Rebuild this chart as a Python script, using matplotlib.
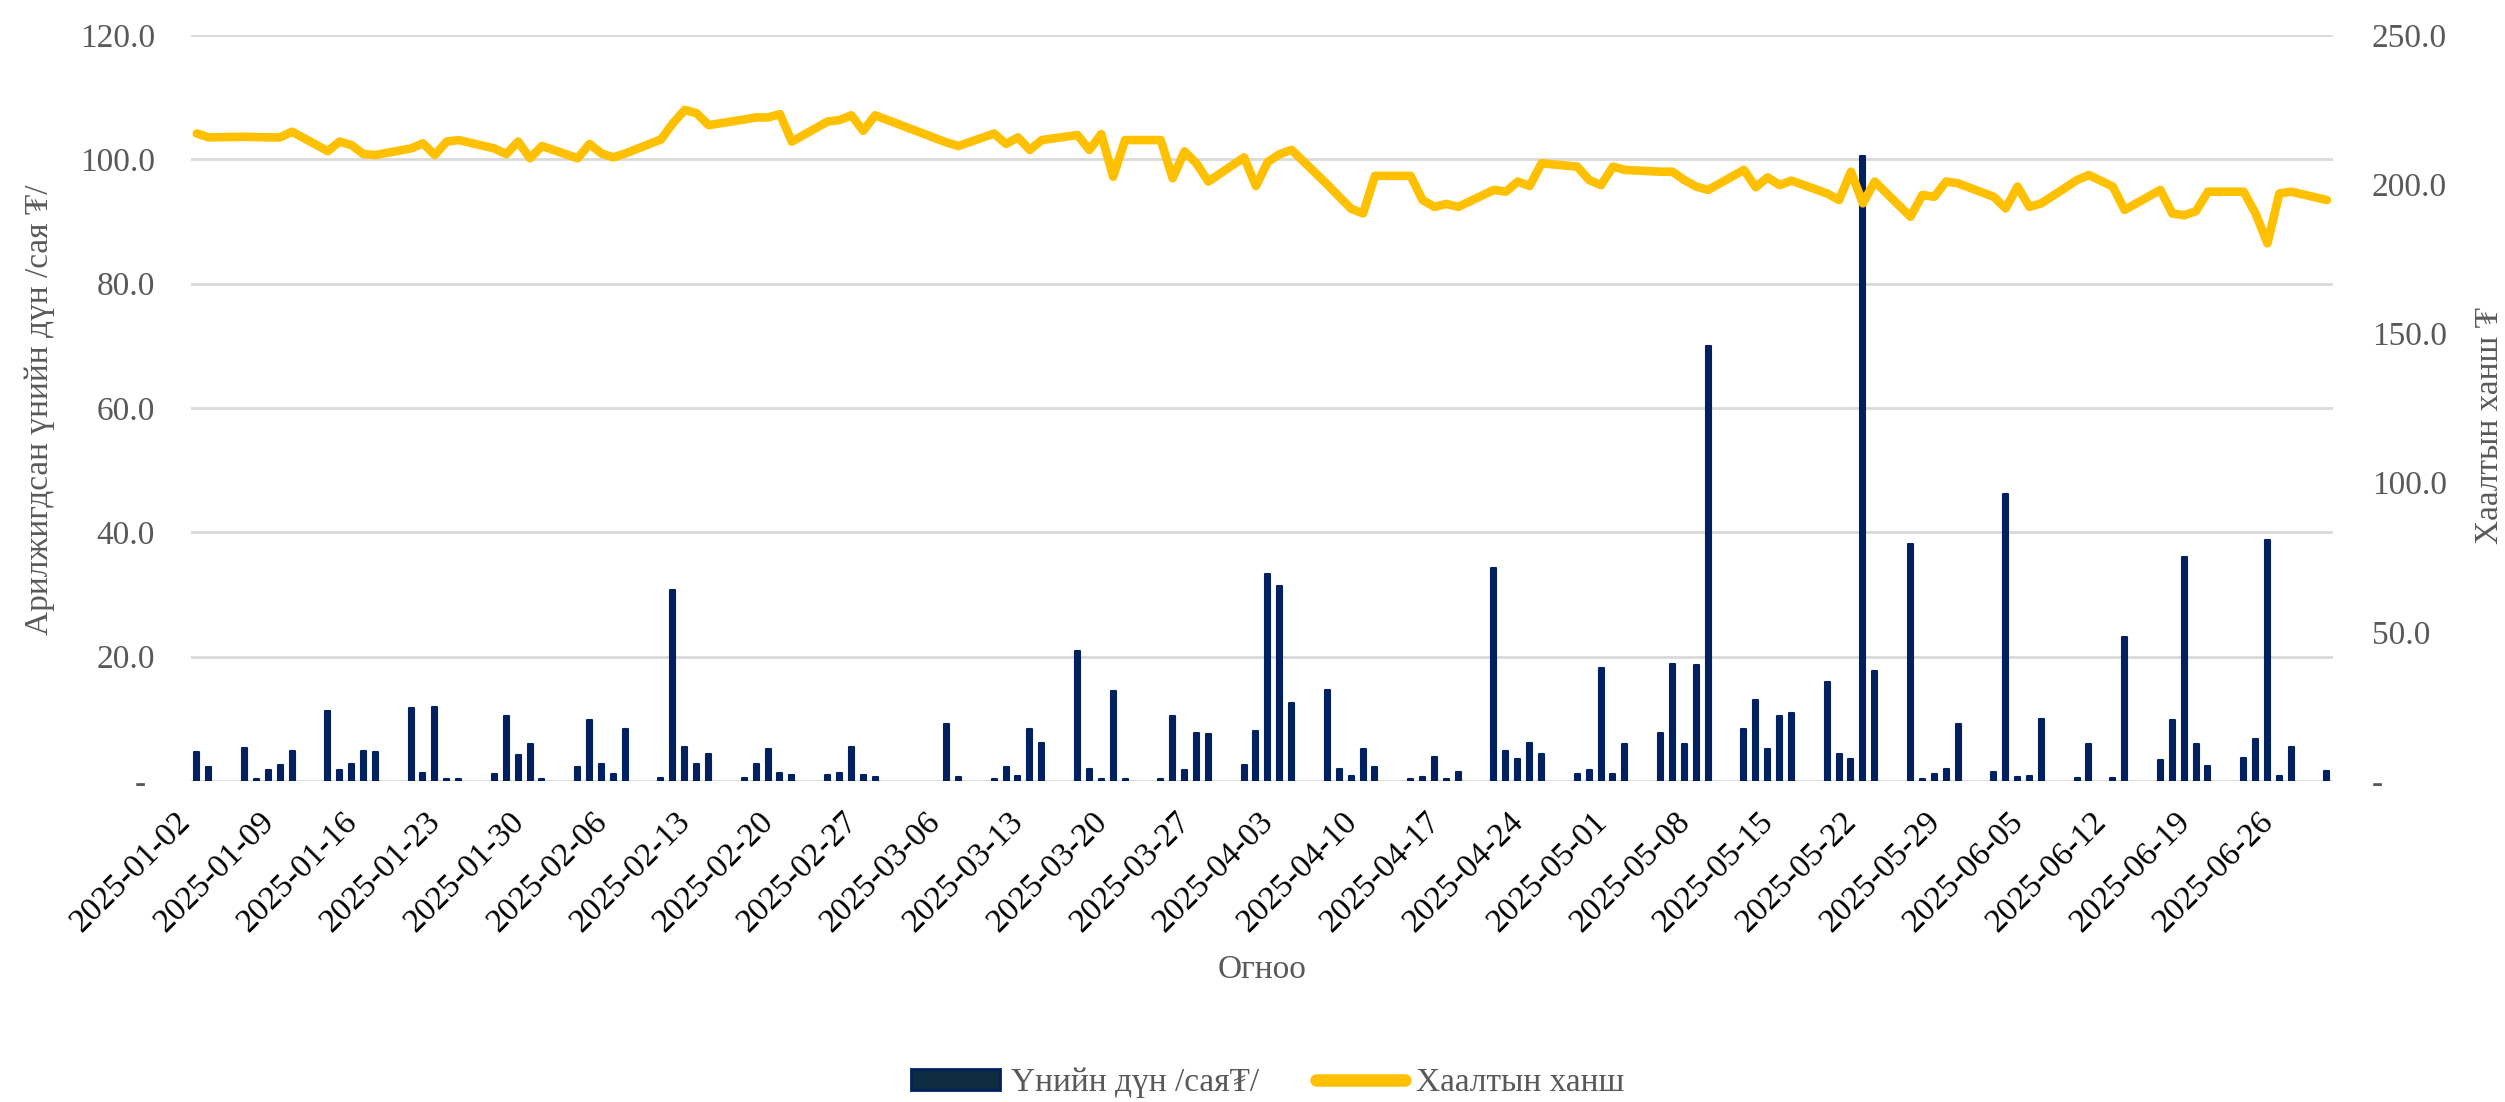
import numpy as np
import matplotlib
matplotlib.use("Agg")
import matplotlib.pyplot as plt
import matplotlib.dates as mdates
from matplotlib.patches import Patch
from matplotlib.lines import Line2D

# ---------------- data ----------------
dates = [
    "2025-01-02", "2025-01-03", "2025-01-06", "2025-01-07", "2025-01-08", "2025-01-09", "2025-01-10",
    "2025-01-13", "2025-01-14", "2025-01-15", "2025-01-16", "2025-01-17",
    "2025-01-20", "2025-01-21", "2025-01-22", "2025-01-23", "2025-01-24",
    "2025-01-27", "2025-01-28", "2025-01-29", "2025-01-30", "2025-01-31",
    "2025-02-03", "2025-02-04", "2025-02-05", "2025-02-06", "2025-02-07",
    "2025-02-10", "2025-02-11", "2025-02-12", "2025-02-13", "2025-02-14",
    "2025-02-17", "2025-02-18", "2025-02-19", "2025-02-20", "2025-02-21",
    "2025-02-24", "2025-02-25", "2025-02-26", "2025-02-27", "2025-02-28",
    "2025-03-06", "2025-03-07",
    "2025-03-10", "2025-03-11", "2025-03-12", "2025-03-13", "2025-03-14",
    "2025-03-17", "2025-03-18", "2025-03-19", "2025-03-20", "2025-03-21",
    "2025-03-24", "2025-03-25", "2025-03-26", "2025-03-27", "2025-03-28",
    "2025-03-31", "2025-04-01", "2025-04-02", "2025-04-03", "2025-04-04",
    "2025-04-07", "2025-04-08", "2025-04-09", "2025-04-10", "2025-04-11",
    "2025-04-14", "2025-04-15", "2025-04-16", "2025-04-17", "2025-04-18",
    "2025-04-21", "2025-04-22", "2025-04-23", "2025-04-24", "2025-04-25",
    "2025-04-28", "2025-04-29", "2025-04-30", "2025-05-01", "2025-05-02",
    "2025-05-05", "2025-05-06", "2025-05-07", "2025-05-08", "2025-05-09",
    "2025-05-12", "2025-05-13", "2025-05-14", "2025-05-15", "2025-05-16",
    "2025-05-19", "2025-05-20", "2025-05-21", "2025-05-22", "2025-05-23",
    "2025-05-26", "2025-05-27", "2025-05-28", "2025-05-29", "2025-05-30",
    "2025-06-02", "2025-06-03", "2025-06-04", "2025-06-05", "2025-06-06",
    "2025-06-09", "2025-06-10", "2025-06-12", "2025-06-13",
    "2025-06-16", "2025-06-17", "2025-06-18", "2025-06-19", "2025-06-20",
    "2025-06-23", "2025-06-24", "2025-06-25", "2025-06-26", "2025-06-27",
    "2025-06-30",
]

turnover = [  # Үнийн дүн /сая ₮/
    4.6, 2.2, 5.3, 0.3, 1.8, 2.5, 4.9,
    11.3, 1.8, 2.8, 4.9, 4.6,
    11.7, 1.3, 11.9, 0.3, 0.3,
    1.1, 10.4, 4.2, 6.0, 0.3,
    2.2, 9.8, 2.7, 1.2, 8.4,
    0.5, 30.8, 5.5, 2.7, 4.4,
    0.5, 2.7, 5.1, 1.3, 0.9,
    1.0, 1.3, 5.5, 1.0, 0.7,
    9.1, 0.6,
    0.3, 2.2, 0.8, 8.3, 6.1,
    20.9, 1.9, 0.4, 14.5, 0.3,
    0.3, 10.4, 1.8, 7.8, 7.5,
    2.5, 8.1, 33.3, 31.4, 12.5,
    14.6, 1.9, 0.75, 5.2, 2.3,
    0.3, 0.7, 3.9, 0.4, 1.5,
    34.2, 4.9, 3.6, 6.1, 4.4,
    1.2, 1.7, 18.2, 1.2, 6.0,
    7.7, 18.8, 5.9, 18.7, 70.0,
    8.4, 13.0, 5.1, 10.5, 10.9,
    15.9, 4.4, 3.5, 100.6, 17.7,
    38.1, 0.3, 1.2, 2.0, 9.2,
    1.5, 46.2, 0.7, 0.85, 9.9,
    0.5, 5.9, 0.5, 23.2,
    3.3, 9.8, 36.0, 6.0, 2.4,
    3.7, 6.8, 38.7, 0.85, 5.5,
    1.6,
]

close_price = [  # Хаалтын ханш
    217.0, 215.7, 215.9, 215.8, 215.7, 215.7, 217.6,
    211.1, 214.3, 213.1, 210.1, 209.8,
    212.0, 213.7, 209.8, 214.3, 214.8,
    212.0, 210.1, 214.3, 208.7, 212.8,
    208.7, 213.5, 210.3, 209.0, 210.3,
    215.0, 220.4, 224.9, 223.8, 219.8,
    221.7, 222.4, 222.4, 223.5, 214.3,
    221.0, 221.5, 223.1, 217.9, 223.1,
    214.0, 212.8,
    217.0, 213.5, 215.7, 211.5, 214.8,
    216.5, 211.5, 216.8, 202.5, 214.8,
    214.8, 202.0, 211.0, 207.0, 200.9,
    209.0, 199.4, 207.5, 210.1, 211.5,
    199.9, 195.8, 191.8, 190.2, 202.8,
    202.8, 194.7, 192.4, 193.4, 192.4,
    198.1, 197.5, 200.9, 199.4, 207.0,
    205.9, 201.4, 199.7, 205.9, 204.8,
    204.2, 204.2, 201.4, 199.2, 198.1,
    204.8, 199.0, 202.3, 199.7, 201.2,
    196.9, 194.7, 204.2, 193.6, 200.9,
    189.1, 196.4, 195.8, 200.9, 200.3,
    195.8, 191.9, 199.2, 192.4, 193.6,
    201.4, 203.1, 199.2, 191.4,
    198.1, 190.2, 189.6, 191.0, 197.5,
    197.5, 190.2, 180.2, 196.9, 197.5,
    194.7,
]

tick_labels = [
    "2025-01-02", "2025-01-09", "2025-01-16", "2025-01-23", "2025-01-30",
    "2025-02-06", "2025-02-13", "2025-02-20", "2025-02-27", "2025-03-06",
    "2025-03-13", "2025-03-20", "2025-03-27", "2025-04-03", "2025-04-10",
    "2025-04-17", "2025-04-24", "2025-05-01", "2025-05-08", "2025-05-15",
    "2025-05-22", "2025-05-29", "2025-06-05", "2025-06-12", "2025-06-19",
    "2025-06-26",
]

left_ticks = [0, 20, 40, 60, 80, 100, 120]
right_ticks = [0, 50, 100, 150, 200, 250]

series_bar_name = "Үнийн дүн /сая₮/"
series_line_name = "Хаалтын ханш"
ylabel_left = "Арилжигдсан үнийн дүн /сая ₮/"
ylabel_right = "Хаалтын ханш ₮"
xlabel = "Огноо"

# ---------------- style ----------------
FONT = ["Liberation Serif", "DejaVu Serif"]
plt.rcParams["font.family"] = FONT
GRAY = "#595959"
NAVY = "#002060"
GOLD = "#FFC000"
FS = 24

x = mdates.date2num(np.array(dates, dtype="datetime64[D]"))
xt = mdates.date2num(np.array(tick_labels, dtype="datetime64[D]"))

fig = plt.figure(figsize=(25.05, 11.02), dpi=100)
ax = fig.add_axes([0.0762, 0.2913, 0.8551, 0.6769])
ax2 = ax.twinx()

ax.bar(x, turnover, width=0.42, color=NAVY, edgecolor=NAVY, linewidth=1.5,
       joinstyle="round", zorder=3)
ax2.plot(x, close_price, color=GOLD, linewidth=6.2, solid_joinstyle="round",
         solid_capstyle="round", zorder=4)

ax.set_xlim(x[0] - 0.5, x[-1] + 0.5)
ax.set_ylim(0, 120)
ax2.set_ylim(0, 250)

ax.set_yticks(left_ticks)
ax.set_yticklabels(["- " if v == 0 else f"{v:.1f}" for v in left_ticks])
ax2.set_yticks(right_ticks)
ax2.set_yticklabels(["-" if v == 0 else f"{v:.1f}" for v in right_ticks])

ax.set_xticks(xt)
ax.set_xticklabels(tick_labels, rotation=45, ha="right", rotation_mode="default")

ax.tick_params(axis="y", length=0, pad=26, labelsize=FS, labelcolor=GRAY)
ax2.tick_params(axis="y", length=0, pad=28, labelsize=FS, labelcolor=GRAY)
ax.tick_params(axis="x", length=0, pad=18, labelsize=FS, labelcolor="black")

ax.grid(axis="y", color="#D9D9D9", linewidth=2.0, zorder=0)
ax.set_axisbelow(True)
for a in (ax, ax2):
    for s in a.spines.values():
        s.set_visible(False)

fig.text(40 / 2505, 1 - 410 / 1102, ylabel_left, rotation=90, ha="center",
         va="center", fontsize=FS, color=GRAY)
fig.text(2490 / 2505, 1 - 425 / 1102, ylabel_right, rotation=90, ha="center",
         va="center", fontsize=FS, color=GRAY)
fig.text(1262 / 2505, 1 - 970 / 1102, xlabel, ha="center", va="center",
         fontsize=FS, color=GRAY)

handles = [
    Patch(facecolor="#0E2D40", edgecolor=NAVY, linewidth=2.0),
    Line2D([0], [0], color=GOLD, linewidth=9, solid_capstyle="round"),
]
leg = fig.legend(handles, [series_bar_name, series_line_name], loc="center",
                 bbox_to_anchor=(1268 / 2505, 1 - 1083 / 1102), ncol=2,
                 frameon=False, fontsize=FS, handlelength=2.65,
                 handletextpad=0.35, columnspacing=1.7, handleheight=0.6)
for t in leg.get_texts():
    t.set_color(GRAY)

fig.savefig("out.png", dpi=100)
